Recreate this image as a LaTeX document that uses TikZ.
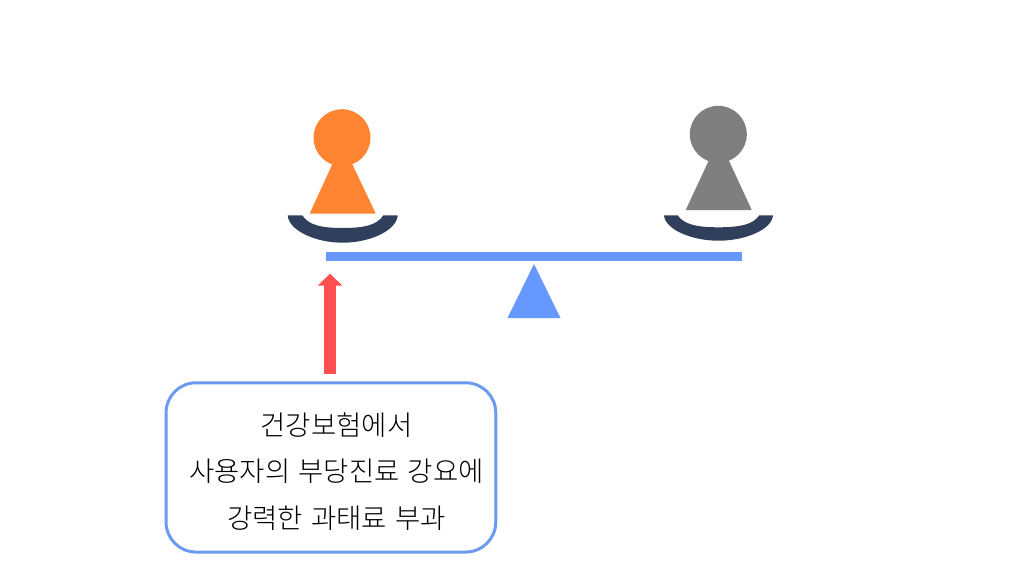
\documentclass[tikz,border=0pt]{standalone}
\usepackage{fontspec}
\setmainfont{Noto Sans CJK KR}
\newfontfamily\kofont{Noto Sans CJK KR Light}[WordSpace=1.35]
\usetikzlibrary{arrows.meta}
\definecolor{pawnorange}{HTML}{FF8533}
\definecolor{pawngray}{HTML}{7F7F7F}
\definecolor{bowlnavy}{HTML}{2F3F5C}
\definecolor{beamblue}{HTML}{6699FF}
\definecolor{boxblue}{HTML}{6C9AEE}
\definecolor{arrowred}{HTML}{FF5050}
\tikzset{
  pawn head/.style={circle,minimum size=57pt,inner sep=0pt,fill=#1},
  pawn body/.style={fill=#1},
  bowl/.style={fill=bowlnavy},
  beam/.style={fill=beamblue},
  notebox/.style={draw=boxblue,line width=3pt,rounded corners=30pt,fill=white,
    minimum width=329.7pt,minimum height=169.3pt,inner sep=0pt},
  notetext/.style={font=\kofont\fontsize{27.5}{46.5}\selectfont,align=center,text=black,inner sep=0pt},
  push/.style={draw=arrowred,line width=12.3pt,-{Triangle[length=12pt,width=24pt]}}
}
% bowl: #1 outer left, #2 inner left, #3 inner right, #4 outer right, #5 top, #6 inner bottom, #7 outer bottom
\newcommand{\bowlshape}[7]{%
  \fill[bowl] (#1,#5)
    .. controls (#1+1,{#5+0.55*(#7-#5)}) and ({(#1+#4)/2-0.5*(#4-#1)/2},#7) .. ({(#1+#4)/2},#7)
    .. controls ({(#1+#4)/2+0.5*(#4-#1)/2},#7) and (#4-1,{#5+0.55*(#7-#5)}) .. (#4,#5)
    -- (#3,#5)
    .. controls (#3-6,{#5+0.75*(#6-#5)}) and ({(#2+#3)/2+22},#6) .. ({(#2+#3)/2},#6)
    .. controls ({(#2+#3)/2-22},#6) and (#2+6,{#5+0.75*(#6-#5)}) .. (#2,#5)
    -- cycle;}
\begin{document}
\begin{tikzpicture}[x=1pt,y=-1pt]
\useasboundingbox (0,0) rectangle (1024,576);
% left pawn
\fill[pawn body=pawnorange] (334.3,160) -- (350.3,160) -- (375.7,213.5) -- (309.7,213.5) -- cycle;
\node[pawn head=pawnorange] (headL) at (342,137.7) {};
\bowlshape{287.7}{302.3}{383.3}{397.7}{215.3}{228}{242.7}
% right pawn
\fill[pawn body=pawngray] (710.9,156) -- (726.8,156) -- (751.7,210) -- (685.7,210) -- cycle;
\node[pawn head=pawngray] (headR) at (718.3,134.3) {};
\bowlshape{664}{677.7}{759.3}{773}{215.3}{227.3}{240.7}
% beam and fulcrum
\fill[beam] (326,252) rectangle (742,261);
\fill[beam] (534,264) -- (560.5,318) -- (507.5,318) -- cycle;
% box
\node[notebox] (box) at (330.9,467.4) {};
\node[notetext] (note) at (336.5,471.5) {건강보험에서\\사용자의 부당진료 강요에\\강력한 과태료 부과};
% arrow
\coordinate (pushstart) at (330,374);
\coordinate (pushend) at (330,273.7);
\draw[push] (pushstart) -- (pushend);
\end{tikzpicture}
\end{document}
